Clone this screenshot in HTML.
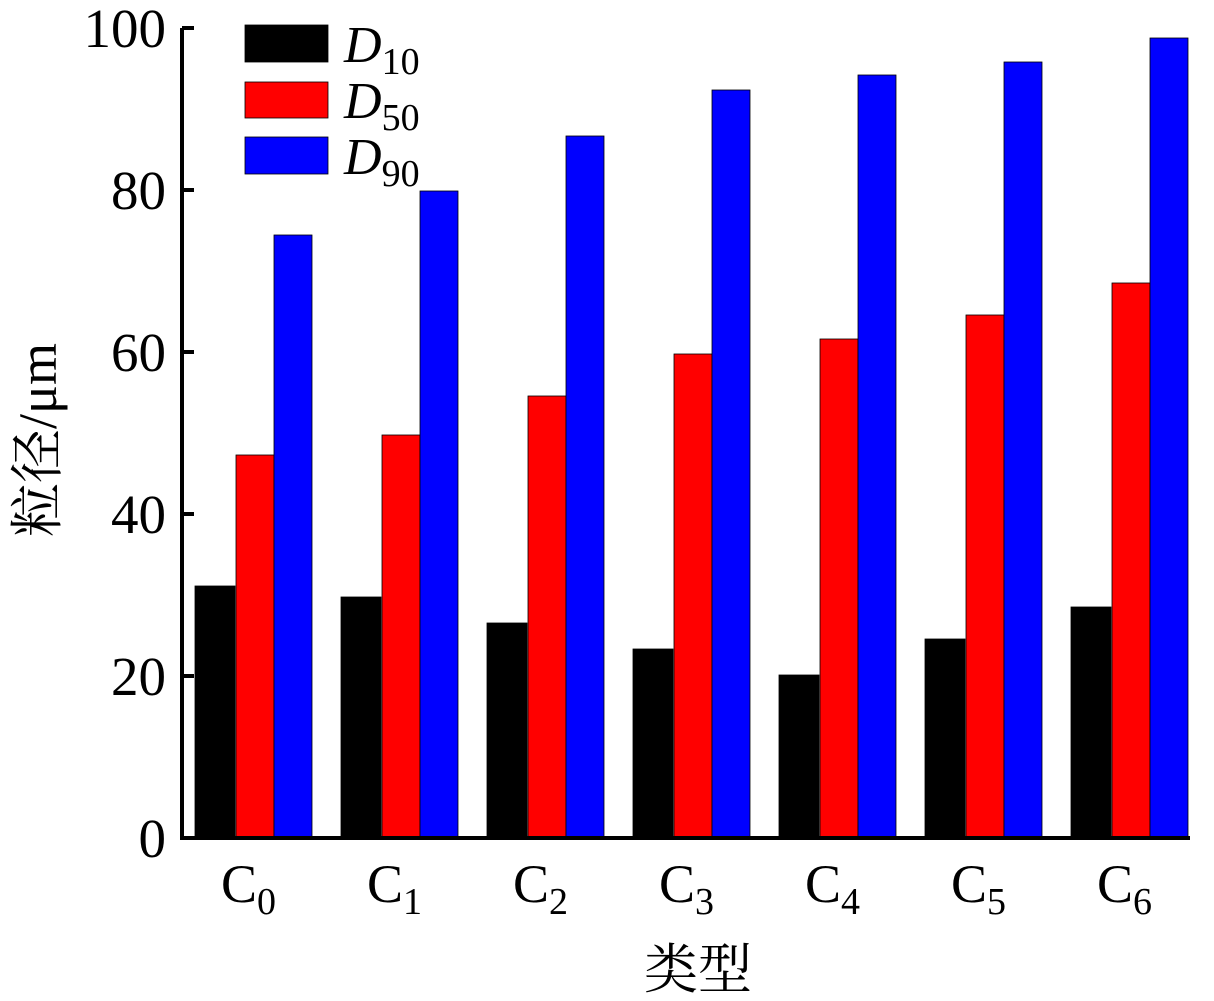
<!DOCTYPE html><html><head><style>body{margin:0;background:#fff}svg text{font-family:"Liberation Serif","Noto Serif CJK SC",serif}</style></head><body>
<svg width="1214" height="996" xmlns="http://www.w3.org/2000/svg">
<g font-size="55" text-anchor="end" fill="#000">
<text x="166" y="857">0</text><text x="166" y="695">20</text><text x="166" y="533">40</text><text x="166" y="371">60</text><text x="166" y="209">80</text><text x="166" y="47">100</text>
</g>
<g stroke="#000" stroke-width="0.8">
<rect x="195" y="586" width="40" height="251" fill="#000"/><rect x="236" y="455" width="38" height="382" fill="#f00"/><rect x="274" y="235" width="38" height="602" fill="#00f"/>
<rect x="341" y="597" width="40" height="240" fill="#000"/><rect x="382" y="435" width="38" height="402" fill="#f00"/><rect x="420" y="191" width="38" height="646" fill="#00f"/>
<rect x="487" y="623" width="40" height="214" fill="#000"/><rect x="528" y="396" width="38" height="441" fill="#f00"/><rect x="566" y="136" width="38" height="701" fill="#00f"/>
<rect x="633" y="649" width="40" height="188" fill="#000"/><rect x="674" y="354" width="38" height="483" fill="#f00"/><rect x="712" y="90" width="38" height="747" fill="#00f"/>
<rect x="779" y="675" width="40" height="162" fill="#000"/><rect x="820" y="339" width="38" height="498" fill="#f00"/><rect x="858" y="75" width="38" height="762" fill="#00f"/>
<rect x="925" y="639" width="40" height="198" fill="#000"/><rect x="966" y="315" width="38" height="522" fill="#f00"/><rect x="1004" y="62" width="38" height="775" fill="#00f"/>
<rect x="1071" y="607" width="40" height="230" fill="#000"/><rect x="1112" y="283" width="38" height="554" fill="#f00"/><rect x="1150" y="38" width="38" height="799" fill="#00f"/>
<rect x="245" y="25" width="83" height="37" fill="#000"/><rect x="245" y="82" width="83" height="36" fill="#f00"/><rect x="245" y="137" width="83" height="37" fill="#00f"/>
</g>
<g stroke="#000" stroke-width="4" fill="none">
<path d="M182 28V838H1190"/>
<path d="M182 28h12M182 190h12M182 352h12M182 514h12M182 676h12"/>
</g>
<g font-size="52">
<text x="344" y="62"><tspan font-style="italic">D</tspan><tspan font-size="38" dy="12">10</tspan></text>
<text x="344" y="118"><tspan font-style="italic">D</tspan><tspan font-size="38" dy="12">50</tspan></text>
<text x="344" y="174"><tspan font-style="italic">D</tspan><tspan font-size="38" dy="12">90</tspan></text>
</g>
<g font-size="54">
<text x="221" y="902">C<tspan font-size="38" dy="12">0</tspan></text>
<text x="367" y="902">C<tspan font-size="38" dy="12">1</tspan></text>
<text x="513" y="902">C<tspan font-size="38" dy="12">2</tspan></text>
<text x="659" y="902">C<tspan font-size="38" dy="12">3</tspan></text>
<text x="805" y="902">C<tspan font-size="38" dy="12">4</tspan></text>
<text x="951" y="902">C<tspan font-size="38" dy="12">5</tspan></text>
<text x="1097" y="902">C<tspan font-size="38" dy="12">6</tspan></text>
</g>
<text x="698" y="988" font-size="54" text-anchor="middle">类型</text>
<text transform="translate(56,440) rotate(-90)" font-size="54" text-anchor="middle">粒径/μm</text>
</svg></body></html>
